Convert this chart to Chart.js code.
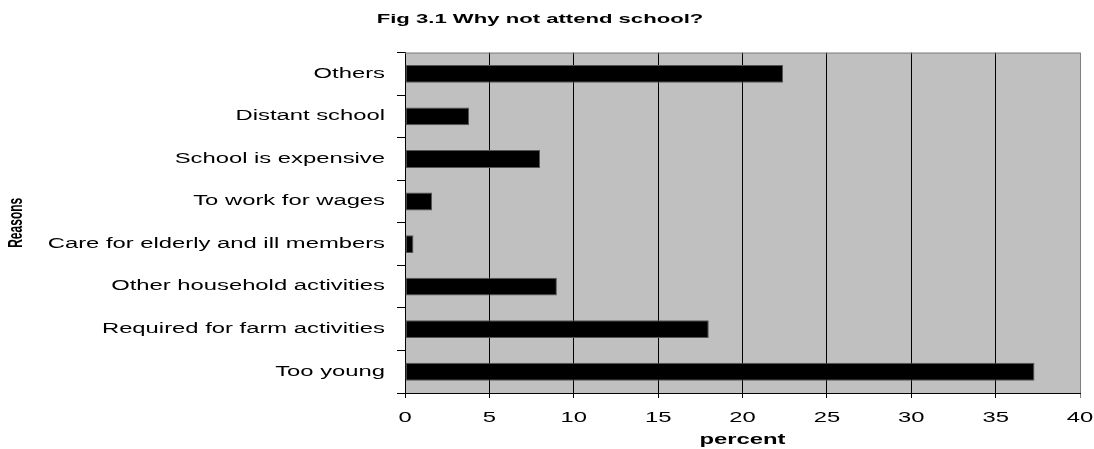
<!DOCTYPE html>
<html>
<head>
<meta charset="utf-8">
<script src="https://cdn.jsdelivr.net/npm/chart.js@4/dist/chart.umd.min.js"></script>
<style>
html, body { margin: 0; padding: 0; background: #fff; }
#wrap { width: 1094px; height: 449px; }
</style>
</head>
<body>
<div id="wrap"><canvas id="chart" width="1094" height="449"></canvas></div>
<script>
// reasons for not attending school, top to bottom
var reasons = [
	"Others",
	"Distant school",
	"School is expensive",
	"To work for wages",
	"Care for elderly and ill members",
	"Other household activities",
	"Required for farm activities",
	"Too young"
];
var percent = [22.4, 3.8, 8.0, 1.6, 0.5, 9.0, 18.0, 37.3];
var percentMin = 0;
var percentMax = 40;
var percentStep = 5;

var FONT = "'Liberation Sans', Arial, sans-serif";
var TEXT_STRETCH = 1.7;

var ctx = document.getElementById("chart").getContext("2d");

// all text is drawn wide: stretch horizontally (screen space) around the anchor point
var rawFillText = ctx.fillText.bind(ctx);
ctx.fillText = function(text, x, y, maxWidth) {
	var m = this.getTransform();
	var p = m.transformPoint(new DOMPoint(x, y));
	this.save();
	this.setTransform(new DOMMatrix()
		.translate(p.x, p.y)
		.scale(TEXT_STRETCH, 1)
		.translate(-p.x, -p.y)
		.multiply(m));
	rawFillText(text, x, y);
	this.restore();
};

// grey plot area with a grey top edge
var plotArea = {
	id: 'plotArea',
	beforeDraw: function(chart) {
		var a = chart.chartArea, c = chart.ctx;
		c.save();
		c.fillStyle = '#c0c0c0';
		c.fillRect(a.left, a.top, a.right - a.left, a.bottom - a.top);
		c.restore();
	},
	beforeDatasetsDraw: function(chart) {
		var a = chart.chartArea, c = chart.ctx;
		c.save();
		c.strokeStyle = '#808080';
		c.lineWidth = 1;
		c.beginPath();
		c.moveTo(a.left, a.top + 0.5);
		c.lineTo(a.right, a.top + 0.5);
		c.stroke();
		c.restore();
	}
};

var chart = new Chart(ctx, {
	type: 'bar',
	data: {
		labels: reasons,
		datasets: [{
			data: percent,
			backgroundColor: '#000',
			borderColor: '#555',
			borderWidth: 1,
			borderSkipped: false,
			categoryPercentage: 1,
			barPercentage: 0.42
		}]
	},
	options: {
		indexAxis: 'y',
		responsive: false,
		animation: false,
		layout: { padding: { top: 0, right: 14, left: 0, bottom: 0 } },
		plugins: {
			legend: { display: false },
			tooltip: { enabled: false },
			title: {
				display: true,
				text: 'Fig 3.1 Why not attend school?',
				color: '#000',
				font: { family: FONT, size: 13, weight: 'bold' },
				padding: { top: 12, bottom: 25 }
			}
		},
		scales: {
			x: {
				type: 'linear',
				min: percentMin,
				max: percentMax,
				afterFit: function(scale) {
					scale.height = 56;
					scale.paddingLeft = 0;
					scale.paddingRight = 0;
				},
				ticks: {
					stepSize: percentStep,
					color: '#000',
					padding: 12,
					maxRotation: 0,
					font: { family: FONT, size: 14 }
				},
				grid: {
					color: function(c) { return c.tick && c.tick.value === percentMax ? '#808080' : '#000'; },
					lineWidth: 1,
					tickLength: 5
				},
				border: { color: '#000', width: 1 },
				title: {
					display: true,
					text: 'percent',
					color: '#000',
					font: { family: FONT, size: 14, weight: 'bold' },
					padding: { top: 2, bottom: 0 }
				}
			},
			y: {
				type: 'category',
				afterFit: function(scale) { scale.width = 405; },
				ticks: {
					color: '#000',
					padding: 12,
					font: { family: FONT, size: 14 }
				},
				grid: {
					offset: true,
					drawOnChartArea: false,
					color: '#000',
					tickLength: 8
				},
				border: { color: '#000', width: 1 },
				title: {
					display: true,
					text: 'Reasons',
					color: '#000',
					font: { family: FONT, size: 12, weight: 'bold' },
					padding: { top: 9, bottom: 0 }
				}
			}
		}
	},
	plugins: [plotArea]
});
</script>
</body>
</html>
